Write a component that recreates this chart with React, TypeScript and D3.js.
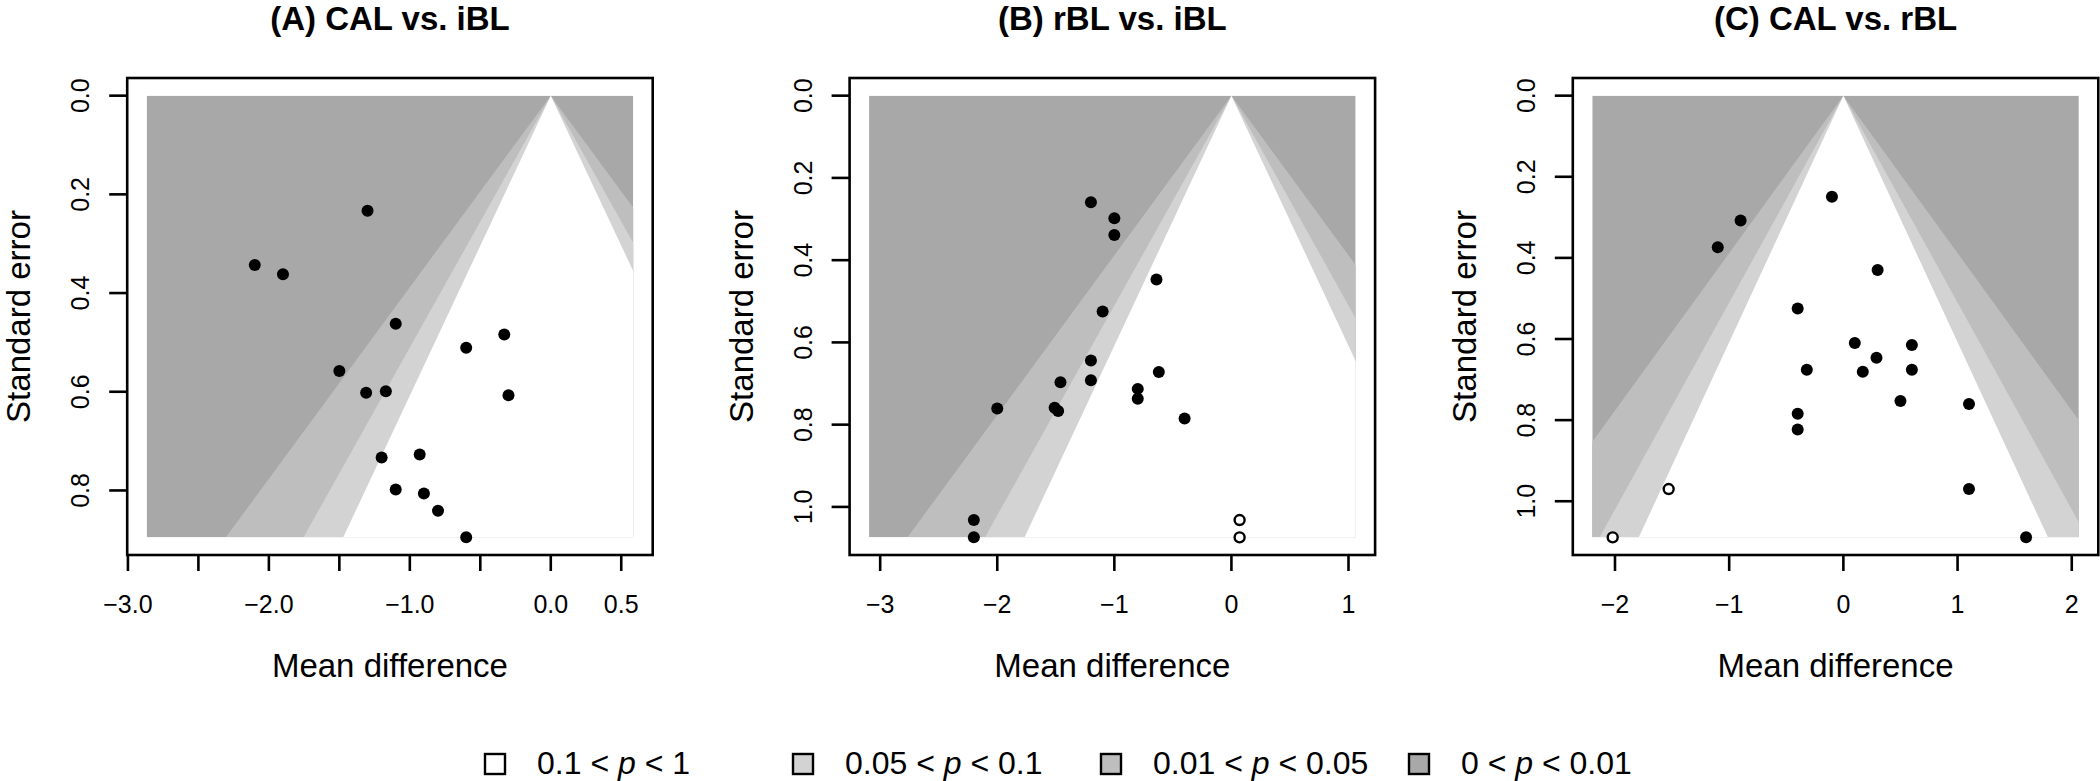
import React from 'react';
import * as d3 from 'd3';

// ---------- data ----------
const titles = ['(A) CAL vs. iBL', '(B) rBL vs. iBL', '(C) CAL vs. rBL'];

// Panel A: observed studies
const mdA = [-1.3, -2.1, -1.9, -1.1, -0.6, -0.33, -1.5, -1.31, -1.17, -0.3, -1.2, -0.93, -1.1, -0.9, -0.8, -0.6];
const seA = [0.233, 0.343, 0.362, 0.462, 0.511, 0.484, 0.558, 0.602, 0.599, 0.607, 0.733, 0.727, 0.798, 0.806, 0.841, 0.895];
const mdImpA: number[] = [];
const seImpA: number[] = [];

// Panel B
const mdB = [-1.2, -1.0, -1.0, -0.64, -1.1, -1.2, -0.62, -1.2, -1.46, -0.8, -0.8, -2.0, -1.51, -1.48, -0.4, -2.2, -2.2];
const seB = [0.259, 0.298, 0.339, 0.447, 0.525, 0.644, 0.672, 0.692, 0.697, 0.713, 0.737, 0.761, 0.759, 0.767, 0.785, 1.032, 1.074];
const mdImpB = [0.07, 0.07];
const seImpB = [1.032, 1.074];

// Panel C
const mdC = [-0.1, -0.9, -1.1, 0.3, -0.4, 0.1, 0.6, 0.29, -0.32, 0.17, 0.6, 0.5, 1.1, -0.4, -0.4, 1.1, 1.6];
const seC = [0.249, 0.308, 0.374, 0.43, 0.525, 0.61, 0.615, 0.646, 0.676, 0.681, 0.676, 0.753, 0.76, 0.784, 0.823, 0.97, 1.089];
const mdImpC = [-1.53, -2.02];
const seImpC = [0.97, 1.089];

// axis limits & ticks
const xlimA = [-2.867, 0.585];
const xlimB = [-3.095, 1.061];
const xlimC = [-2.199, 2.062];
const xTicksA = [-3, -2.5, -2, -1.5, -1, -0.5, 0, 0.5];
const xLabelsA = [-3, -2, -1, 0, 0.5];
const xTicksB = [-3, -2, -1, 0, 1];
const xTicksC = [-2, -1, 0, 1, 2];
const yTicksA = [0, 0.2, 0.4, 0.6, 0.8];
const yTicksB = [0, 0.2, 0.4, 0.6, 0.8, 1.0];
const yTicksC = [0, 0.2, 0.4, 0.6, 0.8, 1.0];

// contour levels
const zValues = [2.576, 1.96, 1.645]; // p = 0.01, 0.05, 0.1
const backColor = '#A8A8A8';
const contourColors = ['#BEBEBE', '#D3D3D3', '#FFFFFF'];

const legendLabels = [
  ['0.1 < ', 'p', ' < 1'],
  ['0.05 < ', 'p', ' < 0.1'],
  ['0.01 < ', 'p', ' < 0.05'],
  ['0 < ', 'p', ' < 0.01'],
];
const legendColors = ['#FFFFFF', '#D3D3D3', '#BEBEBE', '#A8A8A8'];

const xLabelTitle = 'Mean difference';
const yLabelTitle = 'Standard error';

// ---------- layout ----------
const W = 2100;
const H = 781;
const panelLefts = [127.2, 849.6, 1572.8];
const boxTop = 78;
const boxW = 525.5;
const boxH = 477;
const FONT = '"Liberation Sans", Arial, Helvetica, sans-serif';

type PanelProps = {
  idx: number;
  md: number[];
  se: number[];
  mdImp: number[];
  seImp: number[];
  xlim: number[];
  xTicks: number[];
  xLabels: number[];
  xFmt: (v: number) => string;
  yTicks: number[];
};

function Panel({ idx, md, se, mdImp, seImp, xlim, xTicks, xLabels, xFmt, yTicks }: PanelProps) {
  const left = panelLefts[idx];
  const ymax = d3.max([...se, ...seImp]) as number;
  const xspan = xlim[1] - xlim[0];
  const x = d3
    .scaleLinear()
    .domain([xlim[0] - 0.04 * xspan, xlim[1] + 0.04 * xspan])
    .range([left, left + boxW]);
  const y = d3
    .scaleLinear()
    .domain([-0.04 * ymax, ymax * 1.04])
    .range([boxTop, boxTop + boxH]);
  const clipId = `clip-${idx}`;
  const yFmt = d3.format('.1f');
  const cx = left + boxW / 2;
  const cy = boxTop + boxH / 2;

  return (
    <g>
      <defs>
        <clipPath id={clipId}>
          <rect x={x(xlim[0])} y={y(0)} width={x(xlim[1]) - x(xlim[0])} height={y(ymax) - y(0)} />
        </clipPath>
      </defs>
      <g clipPath={`url(#${clipId})`}>
        <rect x={x(xlim[0])} y={y(0)} width={x(xlim[1]) - x(xlim[0])} height={y(ymax) - y(0)} fill={backColor} />
        {zValues.map((z, i) => (
          <polygon
            key={i}
            points={[
              [x(0), y(0)],
              [x(-z * ymax), y(ymax)],
              [x(z * ymax), y(ymax)],
            ]
              .map((p) => p.join(','))
              .join(' ')}
            fill={contourColors[i]}
          />
        ))}
      </g>
      {/* box */}
      <rect x={left} y={boxTop} width={boxW} height={boxH} fill="none" stroke="#000" strokeWidth={2.6} />
      {/* x axis */}
      {xTicks.map((t) => (
        <line key={t} x1={x(t)} x2={x(t)} y1={boxTop + boxH} y2={boxTop + boxH + 16} stroke="#000" strokeWidth={2.6} />
      ))}
      {xLabels.map((t) => (
        <text key={t} x={x(t)} y={613} textAnchor="middle" fontSize={25} fontFamily={FONT}>
          {xFmt(t)}
        </text>
      ))}
      {/* y axis */}
      {yTicks.map((t) => (
        <line key={t} x1={left - 18} x2={left} y1={y(t)} y2={y(t)} stroke="#000" strokeWidth={2.6} />
      ))}
      {yTicks.map((t) => (
        <text
          key={t}
          transform={`translate(${left - 38},${y(t)}) rotate(-90)`}
          textAnchor="middle"
          fontSize={25}
          fontFamily={FONT}
        >
          {yFmt(t)}
        </text>
      ))}
      {/* points */}
      {md.map((m, i) => (
        <circle key={i} cx={x(m)} cy={y(se[i])} r={6} fill="#000" />
      ))}
      {mdImp.map((m, i) => (
        <circle key={`o${i}`} cx={x(m)} cy={y(seImp[i])} r={5} fill="#fff" stroke="#000" strokeWidth={2.4} />
      ))}
      {/* titles */}
      <text x={cx} y={30} textAnchor="middle" fontSize={33} fontWeight="bold" fontFamily={FONT}>
        {titles[idx]}
      </text>
      <text x={cx} y={677} textAnchor="middle" fontSize={33} fontFamily={FONT}>
        {xLabelTitle}
      </text>
      <text
        transform={`translate(${left - 97},${cy}) rotate(-90)`}
        textAnchor="middle"
        fontSize={33}
        fontFamily={FONT}
      >
        {yLabelTitle}
      </text>
    </g>
  );
}

export default function App() {
  const f1 = d3.format('.1f');
  const f0 = d3.format('d');
  const legendX0 = 485;
  const legendStep = 308;
  return (
    <svg
      width={W}
      height={H}
      viewBox={`0 0 ${W} ${H}`}
      style={{ position: 'absolute', left: 0, top: 0, background: '#fff' }}
    >
      <rect x={0} y={0} width={W} height={H} fill="#fff" />
      <Panel idx={0} md={mdA} se={seA} mdImp={mdImpA} seImp={seImpA} xlim={xlimA} xTicks={xTicksA} xLabels={xLabelsA} xFmt={f1} yTicks={yTicksA} />
      <Panel idx={1} md={mdB} se={seB} mdImp={mdImpB} seImp={seImpB} xlim={xlimB} xTicks={xTicksB} xLabels={xTicksB} xFmt={f0} yTicks={yTicksB} />
      <Panel idx={2} md={mdC} se={seC} mdImp={mdImpC} seImp={seImpC} xlim={xlimC} xTicks={xTicksC} xLabels={xTicksC} xFmt={f0} yTicks={yTicksC} />
      {legendLabels.map((parts, i) => {
        const lx = legendX0 + i * legendStep;
        return (
          <g key={i}>
            <rect x={lx} y={754} width={20} height={20} fill={legendColors[i]} stroke="#000" strokeWidth={2.4} />
            <text x={lx + 52} y={774} fontSize={32} fontFamily={FONT}>
              {parts[0]}
              <tspan fontStyle="italic">{parts[1]}</tspan>
              {parts[2]}
            </text>
          </g>
        );
      })}
    </svg>
  );
}
